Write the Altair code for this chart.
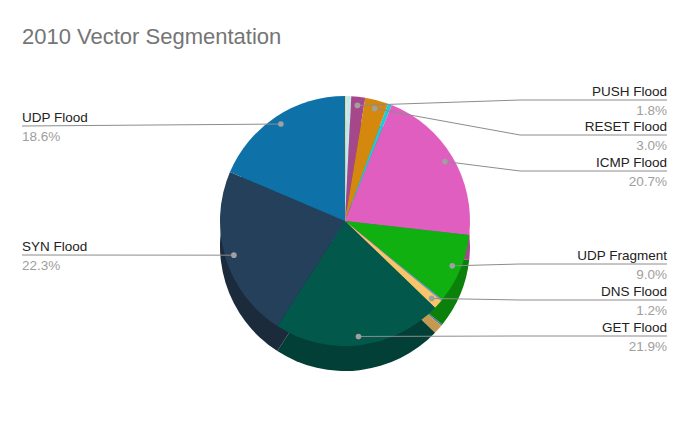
import altair as alt
import pandas as pd

# ---- data ----
categories = ["Other A", "Other B", "PUSH Flood", "RESET Flood", "Other C", "ICMP Flood",
              "UDP Fragment", "Other D", "DNS Flood", "GET Flood", "SYN Flood", "UDP Flood"]
values = [0.2, 0.6, 1.8, 3.0, 0.5, 20.7, 9.0, 0.2, 1.2, 21.9, 22.3, 18.6]

# ---- styles ----
top_colors = ["#e6d49a", "#c2e8e8", "#a6478c", "#d4880e", "#1ccadb", "#e05ec0",
              "#10b010", "#6e9fe0", "#f9c46b", "#03584c", "#24405a", "#0e72a8"]
side_colors = ["#ad9f73", "#92aeae", "#7d3569", "#9f660a", "#1598a4", "#a84790",
               "#0b800b", "#5377a8", "#c59a4f", "#023f36", "#1c2b3c", "#0a5580"]

# ---- layout (plot-area pixels) ----
W, H = 673, 361
CX, CY, R, DEPTH = 337, 163, 125, 25
DOT_R = 0.93 * R
RIGHT_END, RIGHT_ELBOW, LEFT_END = 659, 512, 14
label_line_y = {"PUSH Flood": 42, "RESET Flood": 77, "ICMP Flood": 113,
                "UDP Fragment": 206, "DNS Flood": 242, "GET Flood": 278,
                "UDP Flood": 68, "SYN Flood": 197}
left_labels = ["UDP Flood", "SYN Flood"]

df = pd.DataFrame({
    "cat": categories,
    "val": values,
    "idx": list(range(len(categories))),
    "ly": [label_line_y.get(c, float("nan")) for c in categories],
    "side": ["left" if c in left_labels else "right" for c in categories],
})

base = alt.Chart(df)

side = base.mark_arc(outerRadius=R).encode(
    theta=alt.Theta("val:Q", stack=True),
    order=alt.Order("idx:Q"),
    color=alt.Color("cat:N", scale=alt.Scale(domain=categories, range=side_colors), legend=None),
    x=alt.value(CX), y=alt.value(CY + DEPTH),
)
top = base.mark_arc(outerRadius=R).encode(
    theta=alt.Theta("val:Q", stack=True),
    order=alt.Order("idx:Q"),
    color=alt.Color("cat:N", scale=alt.Scale(domain=categories, range=top_colors), legend=None),
    x=alt.value(CX), y=alt.value(CY),
)

xs = alt.Scale(domain=[0, W])
ys = alt.Scale(domain=[0, H], reverse=True)

lab = base.transform_joinaggregate(total="sum(val)").transform_window(
    cum="sum(val)", sort=[alt.SortField("idx")], frame=[None, 0]
).transform_calculate(
    mid=f"(datum.cum - datum.val/2) / datum.total * 2 * PI",
).transform_calculate(
    dx=f"{CX} + {DOT_R} * sin(datum.mid)",
    dy=f"{CY} - {DOT_R} * cos(datum.mid)",
    ex=f"datum.side == 'left' ? {LEFT_END} : {RIGHT_ELBOW}",
    tx=f"datum.side == 'left' ? {LEFT_END} : {RIGHT_END}",
    ny="datum.ly - 4",
    py="datum.ly + 15",
    pct="format(datum.val / datum.total, '.1%')",
).transform_filter("isValid(datum.ly)")

line_color = "#8c8c8c"
rule1 = lab.mark_rule(color=line_color, strokeWidth=1).encode(
    x=alt.X("dx:Q", scale=xs, axis=None), y=alt.Y("dy:Q", scale=ys, axis=None),
    x2="ex:Q", y2="ly:Q",
)
rule2 = lab.transform_filter("datum.side == 'right'").mark_rule(color=line_color, strokeWidth=1).encode(
    x=alt.X("ex:Q", scale=xs, axis=None), x2="tx:Q",
    y=alt.Y("ly:Q", scale=ys, axis=None),
)
dots = lab.mark_point(filled=True, size=32, color="#a0a0a0", opacity=1).encode(
    x=alt.X("dx:Q", scale=xs, axis=None), y=alt.Y("dy:Q", scale=ys, axis=None),
)

font = "Liberation Sans"
names_r = lab.transform_filter("datum.side == 'right'").mark_text(
    align="right", baseline="alphabetic", fontSize=13.5, font=font, color="#222222"
).encode(x=alt.X("tx:Q", scale=xs, axis=None), y=alt.Y("ny:Q", scale=ys, axis=None), text="cat:N")
pcts_r = lab.transform_filter("datum.side == 'right'").mark_text(
    align="right", baseline="alphabetic", fontSize=13.5, font=font, color="#9e9e9e"
).encode(x=alt.X("tx:Q", scale=xs, axis=None), y=alt.Y("py:Q", scale=ys, axis=None), text="pct:N")
names_l = lab.transform_filter("datum.side == 'left'").mark_text(
    align="left", baseline="alphabetic", fontSize=13.5, font=font, color="#222222"
).encode(x=alt.X("tx:Q", scale=xs, axis=None), y=alt.Y("ny:Q", scale=ys, axis=None), text="cat:N")
pcts_l = lab.transform_filter("datum.side == 'left'").mark_text(
    align="left", baseline="alphabetic", fontSize=13.5, font=font, color="#9e9e9e"
).encode(x=alt.X("tx:Q", scale=xs, axis=None), y=alt.Y("py:Q", scale=ys, axis=None), text="pct:N")

chart = alt.layer(side, top, rule1, rule2, dots, names_r, pcts_r, names_l, pcts_l).resolve_scale(
    color="independent"
).properties(
    width=W, height=H,
    title=alt.TitleParams("2010 Vector Segmentation", anchor="start", dx=14, dy=23, offset=15,
                          fontSize=22, font=font, fontWeight="normal", color="#757575",
                          baseline="alphabetic"),
    padding={"left": 0, "top": 50, "right": 0, "bottom": 0},
    autosize=alt.AutoSizeParams(type="none"),
).configure_view(stroke=None)

chart.save("out.html", embed_options={"renderer": "svg", "actions": False})
